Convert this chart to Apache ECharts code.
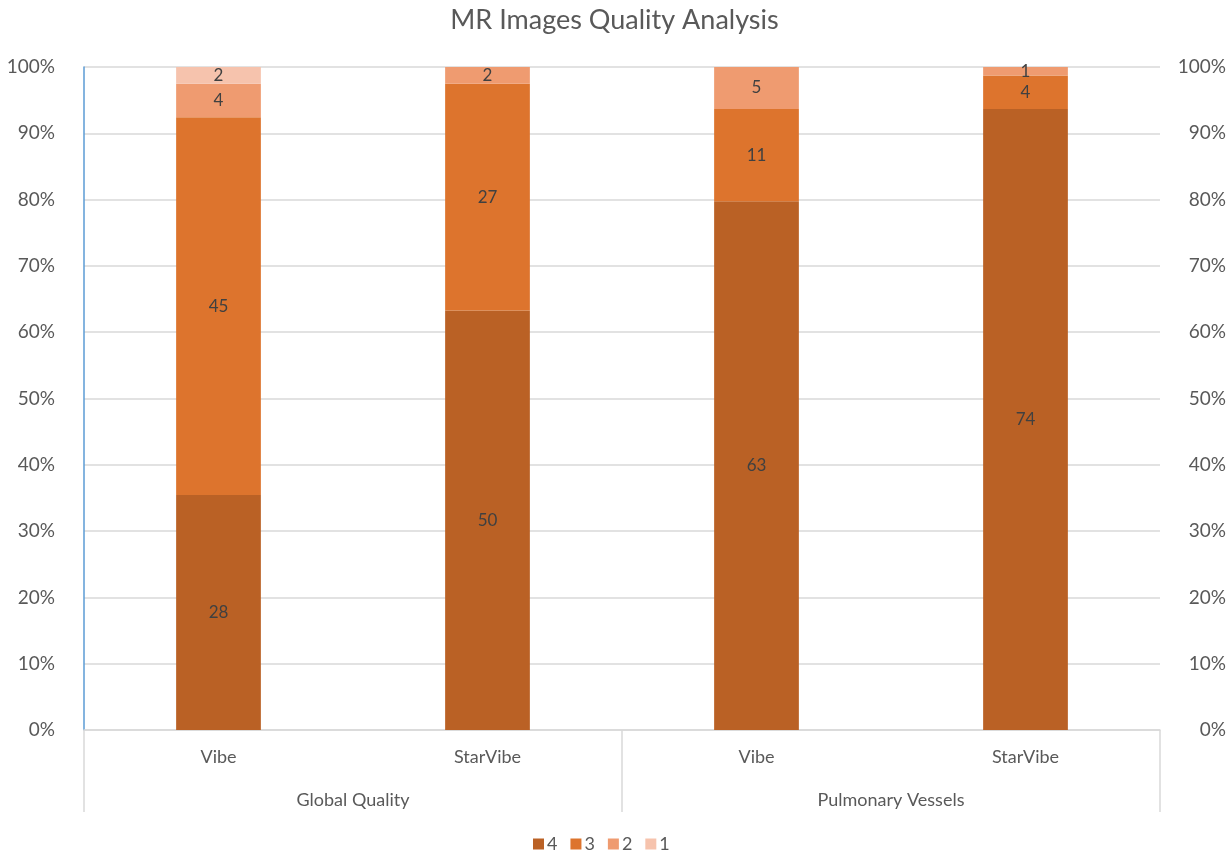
<!DOCTYPE html>
<html>
<head>
<meta charset="utf-8">
<script src="https://cdn.jsdelivr.net/npm/echarts@6/dist/echarts.min.js"></script>
<style>
  html, body { margin: 0; padding: 0; background: #fff; }
  #chart { width: 1229px; height: 859px; }
</style>
</head>
<body>
<div id="chart"></div>
<script>
// Image quality scores (counts per score level) for each sequence
const categories = ['Vibe', 'StarVibe', 'Vibe', 'StarVibe'];
const groups = ['Global Quality', 'Pulmonary Vessels'];
const scoreNames = ['4', '3', '2', '1'];
const score4 = [28, 50, 63, 74];
const score3 = [45, 27, 11, 4];
const score2 = [4, 2, 5, 1];
const score1 = [2, 0, 0, 0];
const yTicks = [0, 10, 20, 30, 40, 50, 60, 70, 80, 90, 100];

const colors = ['#BA6125', '#DD742D', '#EF9B70', '#F6C3AD'];
const font = 'Lato, "Open Sans", sans-serif';

const counts = [score4, score3, score2, score1];
const totals = categories.map((_, i) => counts.reduce((s, arr) => s + arr[i], 0));

const series = counts.map((arr, k) => ({
  name: scoreNames[k],
  type: 'bar',
  stack: 'total',
  barWidth: '31.5%',
  itemStyle: { color: colors[k] },
  label: {
    show: true,
    position: 'inside',
    color: '#404040',
    fontFamily: font,
    fontSize: 17,
    formatter: p => (arr[p.dataIndex] > 0 ? String(arr[p.dataIndex]) : '')
  },
  data: arr.map((v, i) => (v / totals[i]) * 100)
}));

const chart = echarts.init(document.getElementById('chart'));
chart.setOption({
  animation: false,
  title: {
    text: 'MR Images Quality Analysis',
    left: 'center',
    top: 2,
    textStyle: { fontFamily: font, fontSize: 27, fontWeight: 'normal', color: '#595959' }
  },
  legend: {
    data: scoreNames,
    bottom: 1,
    left: 528,
    itemWidth: 11,
    itemHeight: 11,
    itemGap: 13,
    icon: 'rect',
    textStyle: { fontFamily: font, fontSize: 18, color: '#595959', padding: [0, 0, 0, -2] }
  },
  grid: { left: 84, right: 67, top: 67, bottom: 129, containLabel: false },
  xAxis: [
    {
      type: 'category',
      data: categories,
      axisLine: { show: true, lineStyle: { color: '#D9D9D9', width: 1.5 } },
      axisTick: { show: false },
      axisLabel: { margin: 18, fontFamily: font, fontSize: 18, color: '#595959' }
    },
    {
      type: 'category',
      data: groups,
      position: 'bottom',
      axisLine: { show: false },
      axisTick: { show: true, alignWithLabel: false, length: 82, lineStyle: { color: '#D9D9D9', width: 1.5 } },
      axisLabel: { margin: 61, fontFamily: font, fontSize: 18, color: '#595959' }
    }
  ],
  yAxis: [
    {
      type: 'value',
      min: 0,
      max: 100,
      interval: 10,
      position: 'left',
      axisLine: { show: true, lineStyle: { color: '#5B9BD5', width: 1.5 } },
      axisTick: { show: false },
      splitLine: { show: true, lineStyle: { color: '#D9D9D9', width: 1.5 } },
      axisLabel: {
        margin: 29,
        fontFamily: font,
        fontSize: 19,
        color: '#595959',
        formatter: v => (yTicks.includes(v) ? v + '%' : '')
      }
    },
    {
      type: 'value',
      min: 0,
      max: 100,
      interval: 10,
      position: 'right',
      axisLine: { show: false },
      axisTick: { show: false },
      splitLine: { show: false },
      axisLabel: {
        margin: 66,
        align: 'right',
        fontFamily: font,
        fontSize: 19,
        color: '#595959',
        formatter: v => (yTicks.includes(v) ? v + '%' : '')
      }
    }
  ],
  series: series
});
</script>
</body>
</html>
